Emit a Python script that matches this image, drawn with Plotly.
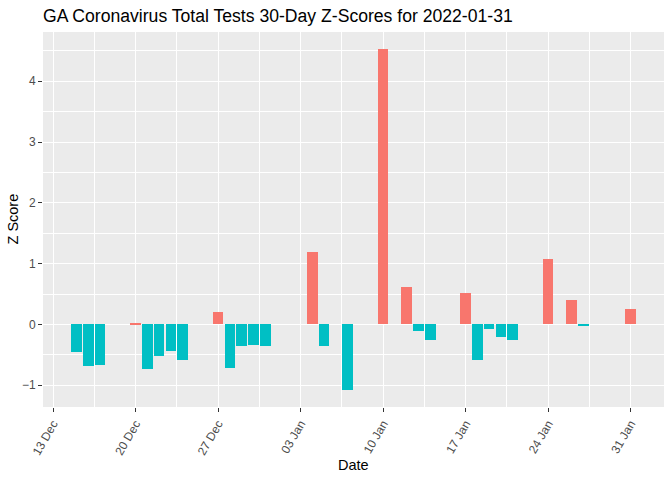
import plotly.graph_objects as go

dates = ["2021-12-15", "2021-12-16", "2021-12-17", "2021-12-20", "2021-12-21",
         "2021-12-22", "2021-12-23", "2021-12-24", "2021-12-27", "2021-12-28",
         "2021-12-29", "2021-12-30", "2021-12-31", "2022-01-04", "2022-01-05",
         "2022-01-07", "2022-01-10", "2022-01-12", "2022-01-13", "2022-01-14",
         "2022-01-17", "2022-01-18", "2022-01-19", "2022-01-20", "2022-01-21",
         "2022-01-24", "2022-01-26", "2022-01-27", "2022-01-31"]
zscores = [-0.445, -0.69, -0.66, 0.02, -0.74,
           -0.51, -0.43, -0.59, 0.21, -0.71,
           -0.35, -0.33, -0.36, 1.19, -0.35,
           -1.08, 4.53, 0.61, -0.10, -0.26,
           0.51, -0.58, -0.066, -0.20, -0.26,
           1.075, 0.40, -0.016, 0.26]
tick_dates = ["2021-12-13", "2021-12-20", "2021-12-27", "2022-01-03",
              "2022-01-10", "2022-01-17", "2022-01-24", "2022-01-31"]
tick_labels = ["13 Dec", "20 Dec", "27 Dec", "03 Jan", "10 Jan", "17 Jan", "24 Jan", "31 Jan"]
title = "GA Coronavirus Total Tests 30-Day Z-Scores for 2022-01-31"

DAY = 86400000
colors = ["#F8766D" if v > 0 else "#00BFC4" for v in zscores]

fig = go.Figure(go.Bar(
    x=dates, y=zscores, width=0.9 * DAY,
    marker=dict(color=colors, line=dict(width=0)),
    hovertemplate="%{x}<br>%{y}<extra></extra>",
))

W, H = 672, 480
L, R, T, B = 43, 8, 32, 73
font = "Liberation Sans, Arial, sans-serif"
fig.update_layout(
    width=W, height=H,
    margin=dict(l=L, r=R, t=T, b=B, autoexpand=False),
    paper_bgcolor="white", plot_bgcolor="#EBEBEB",
    showlegend=False, bargap=0,
    font=dict(family=font, color="#000000"),
    title=dict(text=title, x=L / W, xanchor="left", y=1 - 16 / H, yanchor="middle",
               font=dict(size=17.6, color="black", family=font)),
    annotations=[
        dict(text="Date", xref="paper", yref="paper",
             x=0.5, y=-(465 - (H - B)) / (H - T - B), xanchor="center", yanchor="middle",
             showarrow=False, font=dict(size=14.5, color="black")),
        dict(text="Z Score", xref="paper", yref="paper", textangle=-90,
             x=-(L - 12) / (W - L - R), y=0.5, xanchor="center", yanchor="middle",
             showarrow=False, font=dict(size=14.5, color="black")),
    ],
)
fig.update_xaxes(
    type="date", automargin=False,
    range=["2021-12-12 03:36", "2022-02-02 20:00"],
    tickmode="array", tickvals=tick_dates, ticktext=tick_labels,
    tickangle=-60, tickfont=dict(size=12, color="#4D4D4D"),
    ticks="outside", ticklen=4, tickwidth=1, tickcolor="#333333",
    showgrid=True, gridcolor="white", gridwidth=1.1,
    minor=dict(dtick=3.5 * DAY, tick0="2021-12-13", showgrid=True,
               gridcolor="white", gridwidth=0.55, ticks=""),
    zeroline=False, showline=False,
)
fig.update_yaxes(
    automargin=False,
    range=[-1.357, 4.81],
    tickmode="linear", tick0=0, dtick=1,
    tickfont=dict(size=12, color="#4D4D4D"),
    ticks="outside", ticklen=4, tickwidth=1, tickcolor="#333333",
    showgrid=True, gridcolor="white", gridwidth=1.1,
    minor=dict(dtick=0.5, tick0=0.5, showgrid=True, gridcolor="white", gridwidth=0.55, ticks=""),
    zeroline=False, showline=False,
)

fig.write_html("out.html", config={"displayModeBar": False},
               post_script="document.body.style.margin='0';document.body.style.padding='0';")
